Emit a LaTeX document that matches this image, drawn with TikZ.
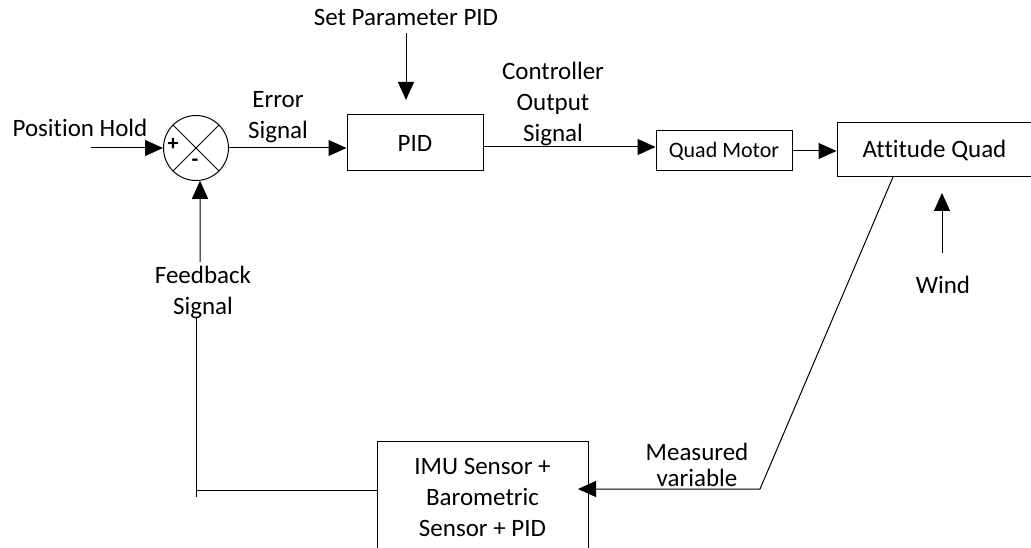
\documentclass[tikz,border=0pt]{standalone}
\usepackage{fontspec}
\setmainfont[Ligatures=NoCommon]{Carlito}
\usetikzlibrary{arrows.meta}
\begin{document}
\begin{tikzpicture}[x=1pt,y=-1pt,line width=1pt,
  blk/.style={draw, inner sep=0pt, font=\fontsize{25}{31}\selectfont},
  lbl/.style={inner sep=0pt, align=center, font=\fontsize{25}{31}\selectfont},
  sgn/.style={inner sep=0pt, font=\fontsize{22}{22}\selectfont\bfseries},
  arr/.style={-{Triangle[length=18pt,width=16pt]}}]
\useasboundingbox (0,0) rectangle (1031,548);

% summing junction
\node[draw, circle, minimum size=65pt, inner sep=0pt] (sum) at (196,148) {};
\draw (sum.45) -- (sum.225) (sum.135) -- (sum.-45);
\node[sgn] (plus) at (173,144) {+};
\node[sgn] (minus) at (195,163) {-};

% blocks
\node[blk, minimum width=136pt, minimum height=56pt] (pid) at (415,143) {PID};
\node[blk, minimum width=136pt, minimum height=40pt, font=\fontsize{22}{26}\selectfont] (qm) at (724,151) {Quad Motor};
\node[blk, minimum width=195pt, minimum height=54pt] (att) at (934.5,150) {Attitude Quad};
\node[blk, minimum width=211pt, minimum height=112pt, align=center] (imu) at (482.5,497)
  {IMU Sensor +\\Barometric\\Sensor + PID};

% free ends of the connectors
\coordinate (ph) at (91,148);
\coordinate (sp) at (406,33);
\coordinate (spend) at (406,100);
\coordinate (windstart) at (942,253);
\coordinate (windend) at (942,193);
\coordinate (attout) at (893,177);
\coordinate (mv) at (760,489);
\coordinate (imuin) at (578,489);
\coordinate (fbcorner) at (196,490);
\coordinate (fblow) at (196,497);
\coordinate (fbtop) at (196,317);
\coordinate (fbarr) at (200,262);

% forward path
\draw[arr] (ph) -- (sum.west);
\draw[arr] (sum.east) -- (pid.west |- sum.east);
\draw[arr] (sp) -- (spend);
\draw[arr] (pid.east |- 0,147) -- (qm.west |- 0,147);
\draw[arr] (qm.east) -- (att.west |- qm.east);
\draw[arr] (windstart) -- (windend);

% feedback path
\draw[arr] (attout) -- (mv) -- (imuin);
\draw (imu.west |- fbcorner) -- (fbcorner);
\draw (fblow) -- (fbtop);
\draw[arr] (fbarr) -- (sum.-83);

% labels
\node[lbl] (lph) at (80,128) {Position Hold};
\node[lbl] (lerr) at (278,117) {Error\\Signal};
\node[lbl] (lsp) at (406,17) {Set Parameter PID};
\node[lbl] (lco) at (553,104) {Controller\\Output\\Signal};
\node[lbl] (lwind) at (943,285) {Wind};
\node[lbl, font=\fontsize{25}{26}\selectfont] (lmv) at (697,465) {Measured\\variable};
\node[lbl] (lfb) at (203,292) {Feedback\\Signal};
\end{tikzpicture}
\end{document}
